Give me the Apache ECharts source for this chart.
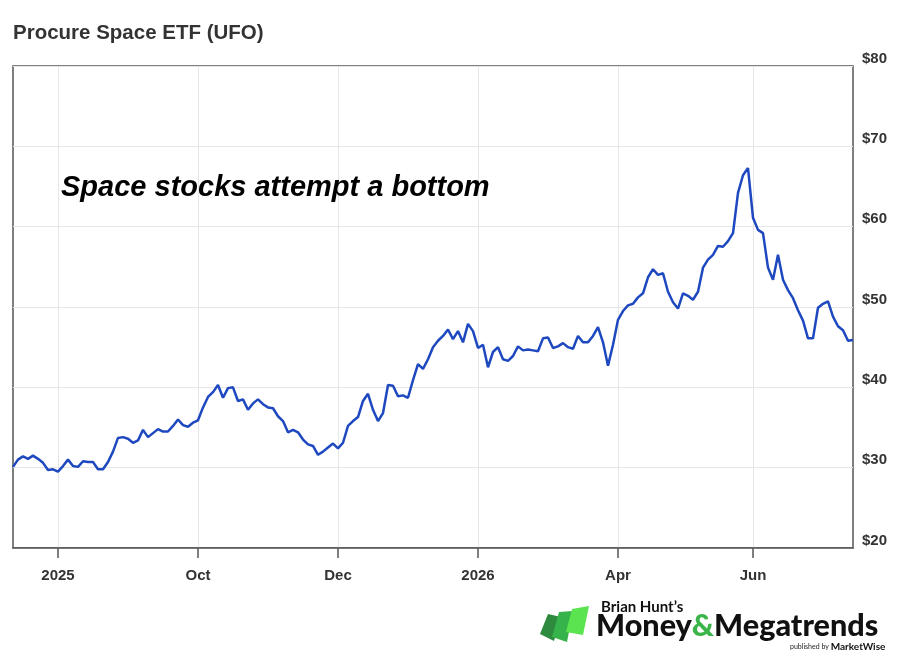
<!DOCTYPE html>
<html>
<head>
<meta charset="utf-8">
<script src="https://cdn.jsdelivr.net/npm/echarts@6/dist/echarts.min.js"></script>
<style>
  html, body { margin: 0; padding: 0; background: #fff; }
  #chart { width: 900px; height: 663px; }
</style>
</head>
<body>
<div id="chart"></div>
<script>
// UFO closing prices, one point every ~5px of the original plot
const prices = [
  30.1, 31.0, 31.4, 31.1, 31.5, 31.1, 30.6, 29.7, 29.8, 29.5,
  30.2, 31.0, 30.2, 30.1, 30.8, 30.7, 30.7, 29.8, 29.8, 30.7,
  32.0, 33.7, 33.8, 33.6, 33.1, 33.4, 34.7, 33.8, 34.3, 34.8,
  34.5, 34.5, 35.2, 36.0, 35.3, 35.1, 35.6, 35.9, 37.5, 38.8,
  39.4, 40.3, 38.7, 39.9, 40.0, 38.3, 38.5, 37.2, 38.0, 38.5,
  37.9, 37.5, 37.4, 36.4, 35.8, 34.4, 34.7, 34.4, 33.5, 32.9,
  32.7, 31.6, 32.0, 32.5, 33.0, 32.4, 33.1, 35.2, 35.8, 36.3,
  38.3, 39.2, 37.2, 35.8, 36.8, 40.3, 40.2, 38.9, 39.0, 38.7,
  40.9, 42.9, 42.3, 43.5, 45.0, 45.8, 46.4, 47.2, 46.0, 47.0,
  45.6, 47.9, 47.0, 44.9, 45.3, 42.5, 44.4, 45.0, 43.5, 43.3,
  43.9, 45.1, 44.6, 44.7, 44.6, 44.5, 46.1, 46.2, 44.9, 45.1,
  45.5, 45.0, 44.8, 46.4, 45.6, 45.6, 46.4, 47.5, 45.6, 42.7,
  45.3, 48.4, 49.5, 50.2, 50.4, 51.2, 51.7, 53.7, 54.7, 54.0,
  54.2, 51.9, 50.6, 49.8, 51.7, 51.4, 50.9, 51.9, 54.9, 55.9,
  56.5, 57.6, 57.5, 58.2, 59.2, 64.2, 66.4, 67.3, 61.1, 59.6,
  59.2, 54.9, 53.4, 56.5, 53.4, 52.1, 51.1, 49.6, 48.3, 46.1,
  46.1, 49.9, 50.4, 50.7, 48.8, 47.6, 47.1, 45.8, 45.9
];

// x axis ticks: which point each label sits on
const tickIdx = [9, 37, 65, 93, 121, 148];
const tickLabels = ['2025', 'Oct', 'Dec', '2026', 'Apr', 'Jun'];

// y axis
const yMin = 20, yMax = 80, yStep = 10;

const cats = prices.map((_, i) => i);
const isTick = (i) => tickIdx.indexOf(i) >= 0;

var chart = echarts.init(document.getElementById('chart'));

chart.setOption({
  animation: false,
  backgroundColor: '#fff',
  textStyle: { fontFamily: 'Liberation Sans, Arial, sans-serif' },
  title: {
    text: 'Procure Space ETF (UFO)',
    left: 8,
    top: 18,
    textStyle: { fontSize: 20.5, fontWeight: 'bold', color: '#333' }
  },
  grid: {
    left: 13, right: 47, top: 66, bottom: 115,
    show: true, borderColor: '#555', borderWidth: 1.5
  },
  xAxis: {
    type: 'category',
    data: cats,
    boundaryGap: false,
    axisLine: { show: true, lineStyle: { color: '#555', width: 1.5 } },
    axisTick: { show: true, interval: (i) => isTick(i), length: 10, lineStyle: { color: '#555', width: 1.5 } },
    splitLine: { show: true, interval: (i) => isTick(i), lineStyle: { color: '#e6e6e6', width: 1 } },
    axisLabel: {
      interval: (i) => isTick(i),
      formatter: (v) => tickLabels[tickIdx.indexOf(Number(v))] || '',
      margin: 20,
      fontSize: 15, fontWeight: 'bold', color: '#333'
    }
  },
  yAxis: {
    type: 'value',
    position: 'right',
    min: yMin, max: yMax, interval: yStep,
    axisLine: { show: false },
    axisTick: { show: false },
    splitLine: { lineStyle: { color: '#e6e6e6', width: 1 } },
    axisLabel: {
      formatter: '${value}',
      margin: 9,
      verticalAlign: 'bottom',
      fontSize: 15, fontWeight: 'bold', color: '#333'
    }
  },
  series: [{
    type: 'line',
    data: prices,
    showSymbol: false,
    lineStyle: { color: '#1e48bf', width: 2.5 },
    z: 3
  }],
  graphic: [
    {
      type: 'text', left: 61, top: 173, z: 100,
      style: { text: 'Space stocks attempt a bottom', font: 'italic bold 29px "Liberation Sans", Arial, sans-serif', fill: '#000' }
    },
    // logo
    { type: 'polygon', z: 100, shape: { points: [[540, 634], [548, 614], [561, 617], [554, 641]] }, style: { fill: '#2e8a3c' } },
    { type: 'polygon', z: 100, shape: { points: [[552, 637], [559, 612], [573, 611], [567, 642]] }, style: { fill: '#36b34a' } },
    { type: 'polygon', z: 100, shape: { points: [[566, 632], [572, 609], [589, 606], [583, 635]] }, style: { fill: '#5be44f' } },
    {
      type: 'text', left: 601, top: 600, z: 100,
      style: { text: 'Brian Hunt\u2019s', font: 'bold 15px Lato, sans-serif', fill: '#111' }
    },
    {
      type: 'text', left: 596, top: 611, z: 100,
      style: {
        text: '{a|Money}{b|&}{a|Megatrends}',
        rich: {
          a: { fontFamily: 'Lato', fontWeight: 900, fontSize: 30.6, fill: '#111' },
          b: { fontFamily: 'Lato', fontWeight: 900, fontSize: 30.6, fill: '#3bb54a' }
        }
      }
    },
    {
      type: 'text', left: 790, top: 642, z: 100,
      style: { text: '{p|published by }{m|MarketWise}', rich: {
        p: { fontFamily: 'Lato', fontSize: 7, fill: '#222' },
        m: { fontFamily: 'Lato', fontWeight: 'bold', fontSize: 10, fill: '#111' }
      } }
    }
  ]
});
</script>
</body>
</html>
